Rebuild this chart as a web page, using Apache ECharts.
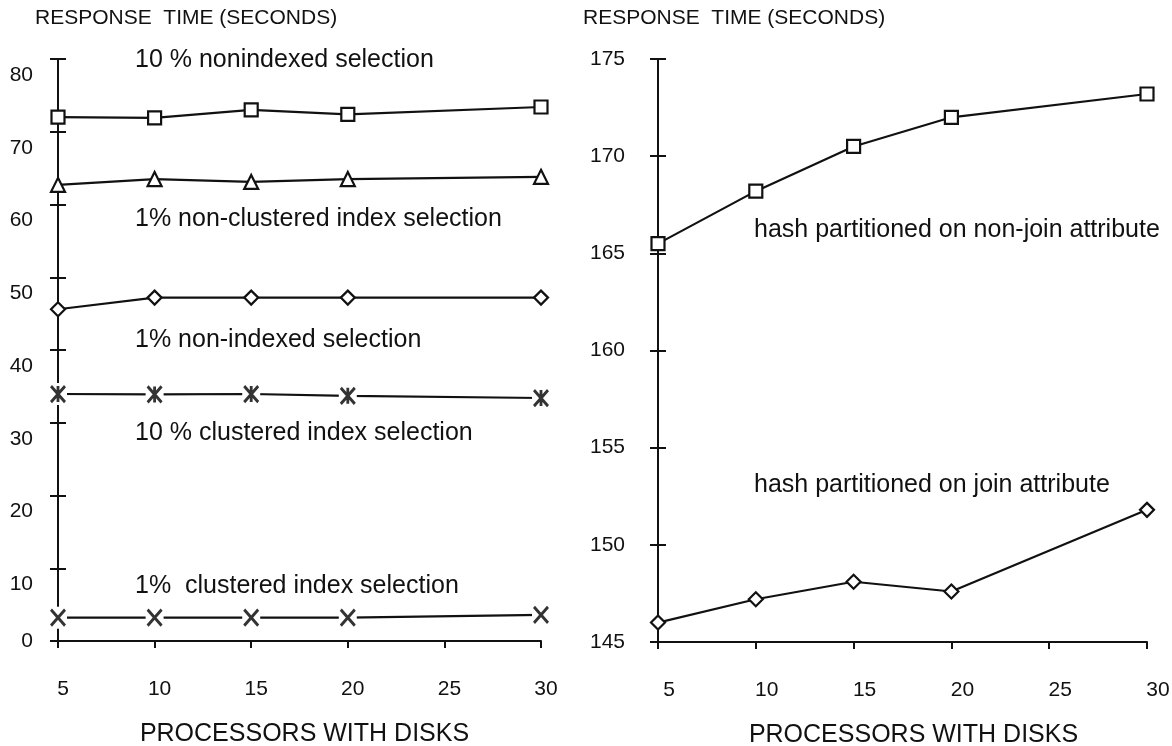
<!DOCTYPE html>
<html>
<head>
<meta charset="utf-8">
<script src="https://cdn.jsdelivr.net/npm/echarts@6/dist/echarts.min.js"></script>
<style>
html,body{margin:0;padding:0;background:#fff;}
#chart{width:1172px;height:746px;}
</style>
</head>
<body>
<div id="chart"></div>
<script>
// ---- data ----
const processors = [5, 10, 15, 20, 30];
const xTicks = { min: 5, max: 30, interval: 5 };
const leftYTicks = { min: 0, max: 80, interval: 10 };
const rightYTicks = { min: 145, max: 175, interval: 5 };

const nonindexed10 = [72.0, 71.9, 73.0, 72.4, 73.4];
const nonClusteredIndex1 = [62.7, 63.5, 63.1, 63.5, 63.8];
const nonIndexed1 = [45.6, 47.2, 47.2, 47.2, 47.2];
const clusteredIndex10 = [33.95, 33.9, 33.95, 33.7, 33.4];
const clusteredIndex1 = [3.2, 3.2, 3.2, 3.2, 3.6];

const hashNonJoin = [165.5, 168.2, 170.5, 172.0, 173.2];
const hashJoin = [146.0, 147.2, 148.1, 147.6, 151.8];

const yTitle = 'RESPONSE  TIME (SECONDS)';
const xTitle = 'PROCESSORS WITH DISKS';
const leftNotes = ['10 % nonindexed selection', '1% non-clustered index selection', '1% non-indexed selection', '10 % clustered index selection', '1%  clustered index selection'];
const rightNotes = ['hash partitioned on non-join attribute', 'hash partitioned on join attribute'];

// ---- styling helpers ----
const FONT = '"Liberation Sans", Arial, Helvetica, sans-serif';
const INK = '#111';
const pairs = (ys) => processors.map((x, i) => [x, ys[i]]);
const X_PATH = 'path://M0,0L10,12M10,0L0,12';
const AST_PATH = 'path://M0,0L10,12M10,0L0,12M5,0L5,12';

function xAxisCfg(gridIndex, shift) {
  return {
    type: 'value', gridIndex, min: xTicks.min, max: xTicks.max, interval: xTicks.interval,
    splitLine: { show: false },
    axisLine: { show: true, lineStyle: { color: INK, width: 2 } },
    axisTick: { show: true, inside: false, length: 7, lineStyle: { color: INK, width: 2 } },
    axisLabel: { color: INK, fontSize: 21, fontFamily: FONT, margin: 38, padding: [0, 0, 0, shift] },
    name: xTitle, nameLocation: 'middle', nameGap: 81,
    nameTextStyle: { color: INK, fontSize: 25, fontFamily: FONT, padding: [0, 0, 0, shift] }
  };
}
function yAxisCfg(gridIndex, ticks, inside, labelCfg) {
  return {
    type: 'value', gridIndex, min: ticks.min, max: ticks.max, interval: ticks.interval,
    position: 'left', offset: 0,
    splitLine: { show: false },
    axisLine: { show: !inside, onZero: false, lineStyle: { color: INK, width: 2 } },
    axisTick: { show: true, inside: inside, length: 8, lineStyle: { color: INK, width: 2 } },
    axisLabel: labelCfg
  };
}
function markedLine(name, data, symbol, size, xi, yi) {
  return {
    name, type: 'line', xAxisIndex: xi, yAxisIndex: yi, data: pairs(data),
    symbol, symbolSize: size, showSymbol: true, clip: false, z: 3,
    lineStyle: { color: INK, width: 2.2 },
    itemStyle: { color: '#fff', borderColor: INK, borderWidth: 2.2 },
    emphasis: { disabled: true }, animation: false
  };
}
function crossLine(name, data, path, xi, yi) {
  return [
    {
      name, type: 'line', xAxisIndex: xi, yAxisIndex: yi, data: pairs(data),
      symbol: 'rect', symbolSize: [18, 22], showSymbol: true, clip: false, z: 3,
      lineStyle: { color: INK, width: 2.2 },
      itemStyle: { color: '#fff', borderWidth: 0 },
      emphasis: { disabled: true }, animation: false
    },
    {
      name: name + ' marks', type: 'scatter', xAxisIndex: xi, yAxisIndex: yi, data: pairs(data),
      symbol: path, symbolSize: [14, 16], clip: false, z: 4,
      itemStyle: { color: 'rgba(0,0,0,0)', borderColor: '#000', borderWidth: 3 },
      emphasis: { disabled: true }, animation: false
    }
  ];
}

const chart = echarts.init(document.getElementById('chart'), null, { renderer: 'canvas' });

const leftNoteY = [61, 220, 341, 434, 587];
const rightNoteY = [231, 486];
const noteText = (t, x, y) => ({ type: 'text', left: x, top: y - 13, style: { text: t, fill: INK, font: '25px ' + FONT } });

const option = {
  backgroundColor: '#fff',
  animation: false,
  textStyle: { fontFamily: FONT },
  grid: [
    { left: 58, top: 59, width: 483, height: 582, containLabel: false, outerBoundsMode: 'none' },
    { left: 658, top: 59, width: 489, height: 583, containLabel: false, outerBoundsMode: 'none' }
  ],
  xAxis: [xAxisCfg(0, 10), xAxisCfg(1, 22)],
  yAxis: [
    yAxisCfg(0, leftYTicks, false, {
      color: INK, fontFamily: FONT, fontSize: 21, margin: 25,
      formatter: (v) => v === 0 ? '{z|0}' : '{s|' + v + '}',
      rich: {
        s: { fontSize: 21, fontFamily: FONT, color: INK, padding: [32, 0, 0, 0] },
        z: { fontSize: 21, fontFamily: FONT, color: INK }
      }
    }),
    yAxisCfg(0, leftYTicks, true, { show: false }),
    yAxisCfg(1, rightYTicks, false, { color: INK, fontFamily: FONT, fontSize: 21, margin: 33 }),
    yAxisCfg(1, rightYTicks, true, { show: false })
  ],
  graphic: [
    { type: 'text', left: 35, top: 8, style: { text: yTitle, fill: INK, font: '21px ' + FONT } },
    { type: 'text', left: 583, top: 8, style: { text: yTitle, fill: INK, font: '21px ' + FONT } }
  ].concat(leftNotes.map((t, i) => noteText(t, 135, leftNoteY[i])))
   .concat(rightNotes.map((t, i) => noteText(t, 754, rightNoteY[i]))),
  series: [
    markedLine('10 % nonindexed selection', nonindexed10, 'rect', 13, 0, 0),
    markedLine('1% non-clustered index selection', nonClusteredIndex1, 'triangle', 14, 0, 0),
    markedLine('1% non-indexed selection', nonIndexed1, 'diamond', 14, 0, 0)
  ].concat(crossLine('10 % clustered index selection', clusteredIndex10, AST_PATH, 0, 0))
   .concat(crossLine('1% clustered index selection', clusteredIndex1, X_PATH, 0, 0))
   .concat([
    markedLine('hash partitioned on non-join attribute', hashNonJoin, 'rect', 13, 1, 2),
    markedLine('hash partitioned on join attribute', hashJoin, 'diamond', 14, 1, 2)
  ])
};
chart.setOption(option);
</script>
</body>
</html>
